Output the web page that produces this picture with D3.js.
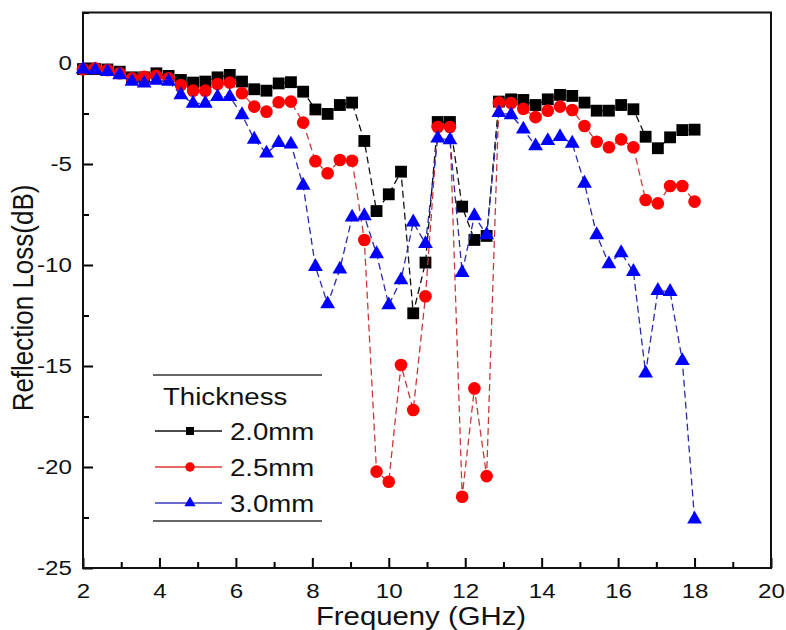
<!DOCTYPE html>
<html>
<head>
<meta charset="utf-8">
<script src="https://cdn.jsdelivr.net/npm/d3@7/dist/d3.min.js"></script>
<style>
  html, body { margin: 0; padding: 0; background: #fff; }
  svg { display: block; }
  text { font-family: "Liberation Sans", Arial, sans-serif; fill: #111; }
</style>
</head>
<body>
<svg id="chart" width="786" height="630"></svg>
<script>
// ---- data ----
const freq = [2.00, 2.32, 2.64, 2.96, 3.28, 3.60, 3.92, 4.24, 4.56, 4.88,
              5.20, 5.52, 5.84, 6.16, 6.48, 6.80, 7.12, 7.44, 7.76, 8.08,
              8.40, 8.72, 9.04, 9.36, 9.68, 10.00, 10.32, 10.64, 10.96, 11.28,
              11.60, 11.92, 12.24, 12.56, 12.88, 13.20, 13.52, 13.84, 14.16, 14.48,
              14.80, 15.12, 15.44, 15.76, 16.08, 16.40, 16.72, 17.04, 17.36, 17.68, 18.00];

const rl20 = [-0.30, -0.30, -0.32, -0.43, -0.71, -0.71, -0.51, -0.64, -0.84, -0.97,
              -0.92, -0.71, -0.59, -0.92, -1.30, -1.37, -1.01, -0.95, -1.42, -2.30,
              -2.52, -2.08, -1.96, -3.86, -7.33, -6.50, -5.38, -12.39, -9.88, -2.92,
              -2.92, -7.11, -8.76, -8.56, -1.91, -1.80, -1.83, -2.08, -1.80, -1.58,
              -1.63, -1.96, -2.36, -2.36, -2.08, -2.29, -3.65, -4.22, -3.68, -3.32, -3.30];

const rl25 = [-0.31, -0.26, -0.35, -0.51, -0.76, -0.68, -0.64, -0.76, -1.09, -1.37,
              -1.37, -1.04, -0.97, -1.50, -2.16, -2.41, -1.94, -1.91, -2.95, -4.86,
              -5.46, -4.80, -4.84, -8.76, -20.23, -20.73, -14.95, -17.18, -11.55, -3.17,
              -3.17, -21.47, -16.11, -20.45, -1.96, -1.98, -2.27, -2.68, -2.36, -2.16,
              -2.33, -3.12, -3.90, -4.17, -3.78, -4.17, -6.78, -6.95, -6.09, -6.09, -6.86];

const rl30 = [-0.31, -0.35, -0.43, -0.59, -0.92, -1.00, -0.87, -0.92, -1.58, -2.00,
              -2.00, -1.67, -1.67, -2.57, -3.78, -4.47, -3.95, -4.02, -6.06, -10.08,
              -11.93, -10.21, -7.64, -7.57, -9.45, -11.98, -10.74, -7.88, -8.95, -3.73,
              -3.81, -10.38, -7.57, -8.51, -2.46, -2.57, -3.28, -4.11, -3.85, -3.65,
              -3.98, -5.96, -8.51, -9.95, -9.40, -10.33, -15.36, -11.27, -11.32, -14.74, -22.59];

const seriesNames = ["2.0mm", "2.5mm", "3.0mm"];
const legendTitle = "Thickness";
const xTicks = [2, 4, 6, 8, 10, 12, 14, 16, 18, 20];
const yTicks = [0, -5, -10, -15, -20, -25];
const xTitle = "Frequeny (GHz)";
const yTitle = "Reflection Loss(dB)";

// ---- layout / style ----
const SX = 1.15; // horizontal stretch of the original's text
const L = 83, R = 771, T = 12.5, B = 568;
const svg = d3.select("#chart");
const x = d3.scaleLinear().domain([2, 20]).range([L, R]);
const y = d3.scaleLinear().domain([-25, 2.5]).range([B, T]);

const styles = [
  { line: "#111111", fill: "#000000", symbol: d3.symbolSquare, size: 140, lsize: 64, legLine: "#111" },
  { line: "#c83a3a", fill: "#ff0000", symbol: d3.symbolCircle, size: 125, lsize: 70, legLine: "#e03a3a" },
  { line: "#2a2aa8", fill: "#0000ff", symbol: d3.symbolTriangle, size: 95, lsize: 55, legLine: "#3a3ac0" }
];
const allSeries = [rl20, rl25, rl30];

// ---- axes ----
const xMinor = d3.range(3, 20, 2);
const yMinor = [2.5, -2.5, -7.5, -12.5, -17.5, -22.5];

const gx = svg.append("g").attr("transform", `translate(0,${B})`)
  .call(d3.axisBottom(x).tickValues(xTicks).tickSize(-10).tickPadding(15).tickFormat(d3.format("d")));
svg.append("g").attr("transform", `translate(0,${B})`)
  .call(d3.axisBottom(x).tickValues(xMinor).tickSize(-6).tickFormat(""));
const gy = svg.append("g").attr("transform", `translate(${L},0)`)
  .call(d3.axisLeft(y).tickValues(yTicks).tickSize(-10).tickPadding(9.6).tickFormat(d3.format("d")));
svg.append("g").attr("transform", `translate(${L},0)`)
  .call(d3.axisLeft(y).tickValues(yMinor).tickSize(-6).tickFormat(""));

svg.selectAll(".domain").remove();
svg.selectAll(".tick line").attr("stroke", "#000").attr("stroke-width", 2);
gx.selectAll("text").attr("font-size", 21).attr("transform", `scale(${SX},1)`).attr("fill", "#111")
  .attr("font-family", '"Liberation Sans", Arial, sans-serif');
gy.selectAll("text").attr("font-size", 21).attr("transform", `scale(${SX},1)`).attr("fill", "#111")
  .attr("font-family", '"Liberation Sans", Arial, sans-serif');
gy.selectAll("text").text(d => d === 0 ? "0" : d3.format("d")(d).replace("−", "-"));

// frame
svg.append("rect").attr("x", L).attr("y", T).attr("width", R - L).attr("height", B - T)
  .attr("fill", "none").attr("stroke", "#111").attr("stroke-width", 2);

// titles
svg.append("text").attr("transform", `translate(${(L + R) / 2 - 6},625) scale(${SX},1)`)
  .attr("text-anchor", "middle").attr("font-size", 25.5).text(xTitle);
svg.append("text").attr("transform", `translate(33,298) scale(${SX},1) rotate(-90)`)
  .attr("text-anchor", "middle").attr("font-size", 26).text(yTitle);

// ---- series ----
const clip = svg.append("clipPath").attr("id", "plotclip").append("rect")
  .attr("x", L).attr("y", T).attr("width", R - L).attr("height", B - T);

const plot = svg.append("g");
allSeries.forEach((vals, si) => {
  const st = styles[si];
  const pts = freq.map((f, i) => [f, vals[i]]);
  plot.append("path")
    .attr("d", d3.line().x(d => x(d[0])).y(d => y(d[1]))(pts))
    .attr("fill", "none").attr("stroke", st.line).attr("stroke-width", 1.3)
    .attr("stroke-dasharray", "7,4");
  plot.append("g").selectAll("path").data(pts).join("path")
    .attr("transform", d => `translate(${x(d[0])},${y(d[1])})`)
    .attr("d", d3.symbol().type(st.symbol).size(st.size))
    .attr("fill", st.fill);
});

// ---- legend ----
const lg = svg.append("g");
lg.append("line").attr("x1", 153).attr("x2", 322).attr("y1", 375).attr("y2", 375)
  .attr("stroke", "#333").attr("stroke-width", 1.5);
lg.append("line").attr("x1", 153).attr("x2", 322).attr("y1", 521).attr("y2", 521)
  .attr("stroke", "#333").attr("stroke-width", 1.5);
lg.append("text").attr("transform", `translate(163,405) scale(${SX},1)`)
  .attr("font-size", 24).text(legendTitle);
seriesNames.forEach((name, si) => {
  const st = styles[si];
  const cy = 431 + si * 36;
  lg.append("line").attr("x1", 155).attr("x2", 222).attr("y1", cy).attr("y2", cy)
    .attr("stroke", st.legLine).attr("stroke-width", 1.3);
  lg.append("path").attr("transform", `translate(190,${cy})`)
    .attr("d", d3.symbol().type(st.symbol).size(st.lsize)).attr("fill", st.fill);
  lg.append("text").attr("transform", `translate(230,${cy + 8.5}) scale(${SX},1)`)
    .attr("font-size", 24).text(name);
});
</script>
</body>
</html>
